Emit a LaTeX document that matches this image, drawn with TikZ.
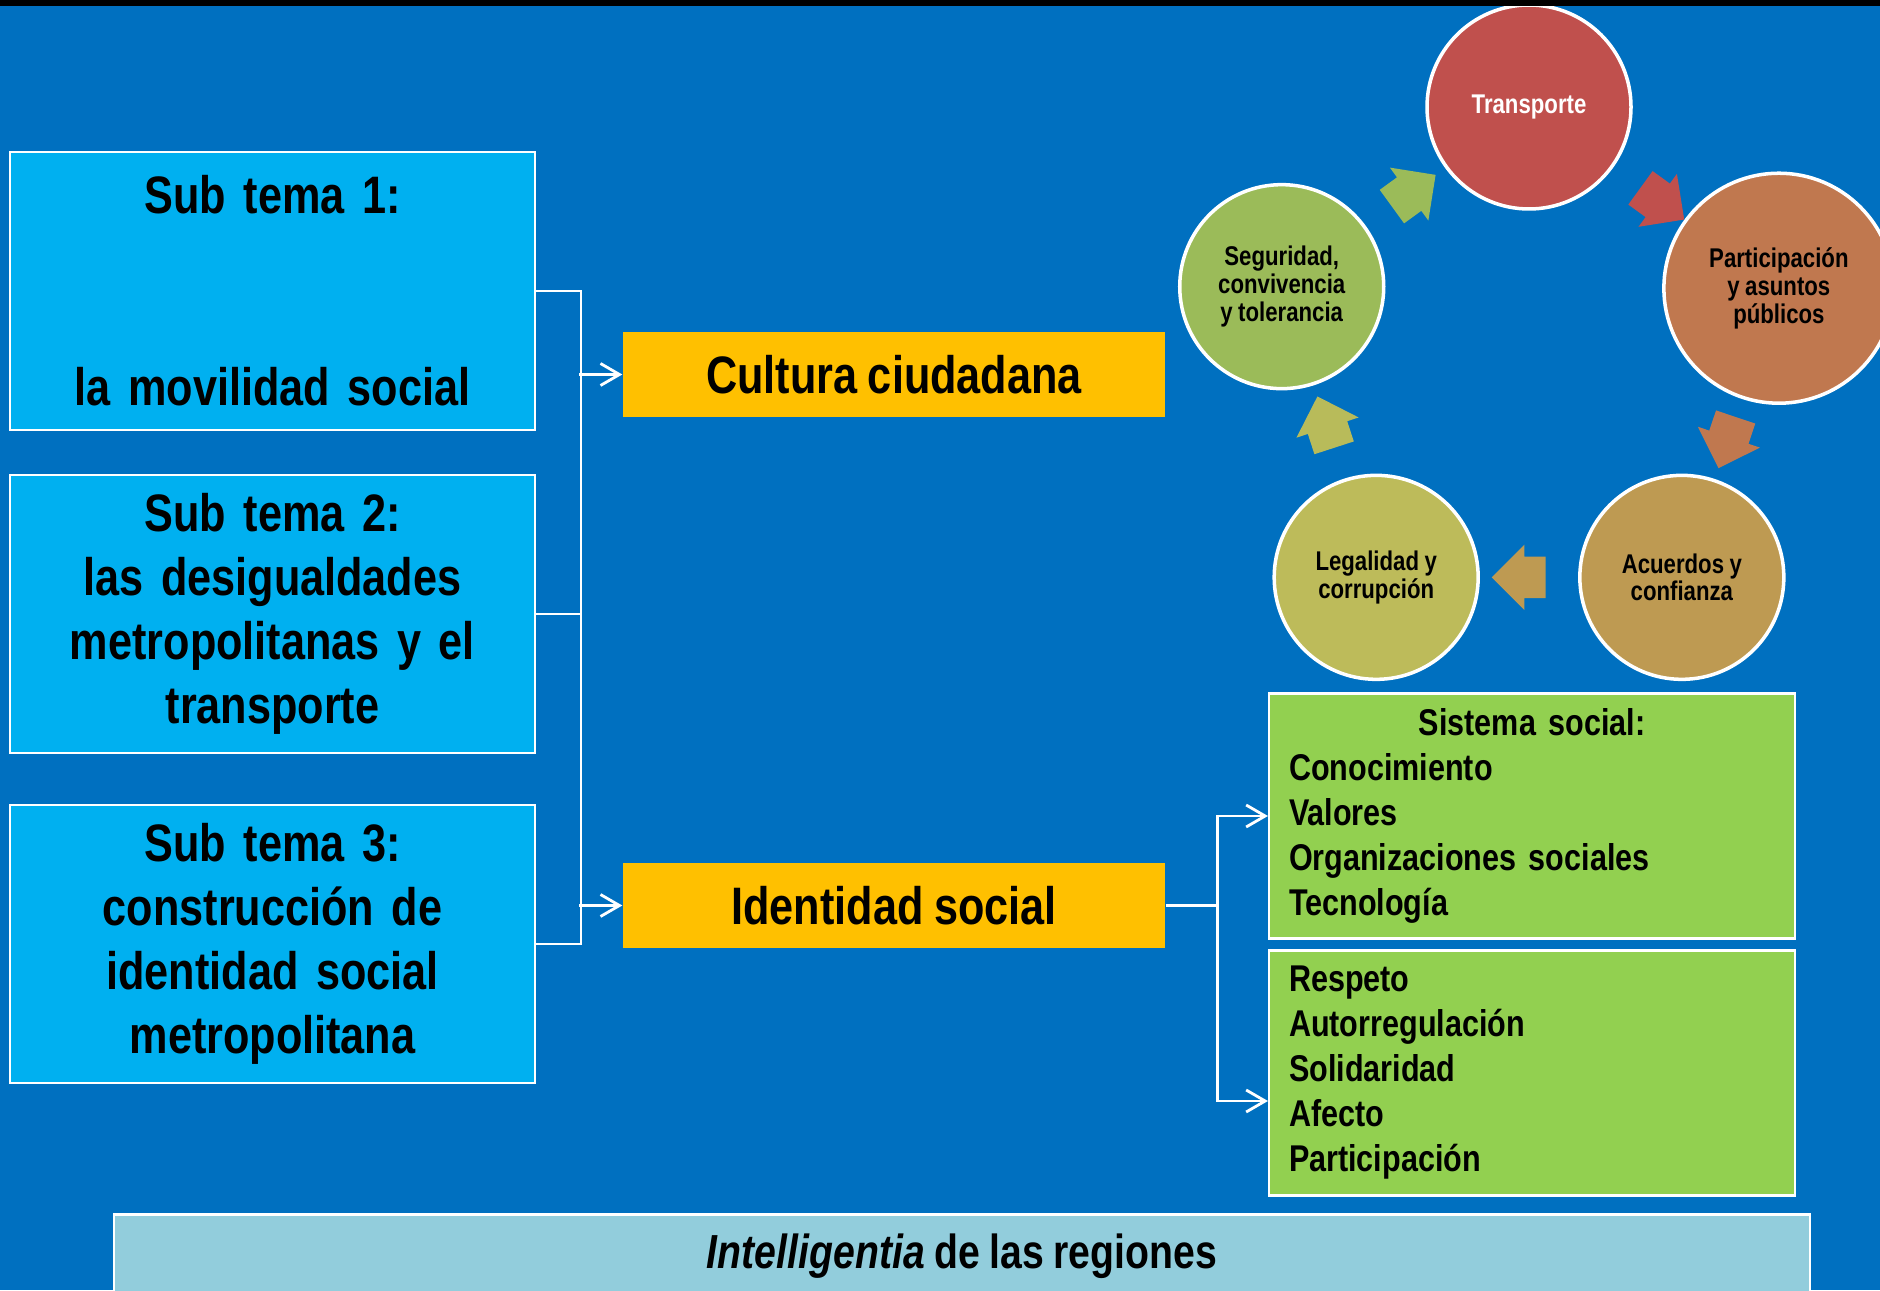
\documentclass[tikz,border=0pt]{standalone}
\usepackage{fontspec}
\setmainfont{Liberation Sans}[FakeStretch=0.82]
\usetikzlibrary{arrows.meta, shapes.arrows}
\definecolor{fondo}{HTML}{0070C0}
\definecolor{celeste}{HTML}{00B0F0}
\definecolor{naranja}{HTML}{FFC000}
\definecolor{verde}{HTML}{92D050}
\definecolor{palido}{HTML}{92CDDC}
\definecolor{rojo}{HTML}{C0504D}
\definecolor{cobre}{HTML}{C0784F}
\definecolor{ocre}{HTML}{BE9A52}
\definecolor{oliva}{HTML}{BDBB5A}
\definecolor{pasto}{HTML}{9BBB59}
\newcommand\apretado{\fontdimen2\font=0.2em\relax}

\begin{document}
\begin{tikzpicture}[>={Straight Barb[length=1.9mm,width=2.2mm]},
    subtema/.style={draw=white, line width=0.6pt, fill=celeste, text width=5cm,
      minimum width=5.25cm, minimum height=2.78cm, inner sep=0pt, align=center,
      font=\bfseries\fontsize{15}{18.2}\selectfont\apretado},
    eje/.style={fill=naranja, minimum width=5.42cm, minimum height=0.85cm,
      inner sep=0pt, font=\bfseries\fontsize{15}{18}\selectfont\apretado},
    lista/.style={draw=white, line width=0.6pt, fill=verde, text width=4.86cm,
      inner xsep=0.2cm, inner ysep=0pt, minimum height=2.45cm, align=left,
      font=\bfseries\fontsize{10.6}{12.8}\selectfont\apretado},
    ciclo/.style={circle, draw=white, line width=1pt, minimum size=2.04cm,
      inner sep=0pt, align=center, font=\bfseries\fontsize{7.7}{7.9}\selectfont\apretado},
    flecha/.style={single arrow, draw=none, minimum height=0.54cm,
      inner xsep=0pt, inner ysep=0.2cm, single arrow head extend=0.12cm,
      sloped, allow upside down},
    enlace/.style={draw=white, line width=0.8pt}]
  \useasboundingbox (0,0) rectangle (18.8,12.9);
  \clip (0,0) rectangle (18.8,12.9);
  \fill[fondo] (0,0) rectangle (18.8,12.9);

  \node[subtema] (s1) at (2.725,9.99) {Sub tema 1:\\~\\~\\la movilidad social};
  \node[subtema] (s2) at (2.725,6.76) {Sub tema 2:\\las desigualdades\\metropolitanas y el\\transporte};
  \node[subtema] (s3) at (2.725,3.46) {Sub tema 3:\\construcción de\\identidad social\\metropolitana};

  \node[eje] (cultura) at (8.94,9.155) {Cultura ciudadana};
  \node[eje] (identidad) at (8.94,3.845) {Identidad social};

  \node[lista] (g1) at (15.32,4.74) {\makebox[\linewidth]{Sistema social:}\\Conocimiento\\Valores\\Organizaciones sociales\\Tecnología};
  \node[lista] (g2) at (15.32,2.17) {Respeto\\Autorregulación\\Solidaridad\\Afecto\\Participación};

  \node[draw=white, line width=0.6pt, fill=palido, minimum width=16.96cm,
    minimum height=0.84cm, font=\bfseries\fontsize{13.6}{16}\selectfont\apretado]
    (pie) at (9.62,0.335) {\textit{Intelligentia} de las regiones};

  \draw[enlace] (s1.east) -- ++(0.45,0) |- (s3.east);
  \draw[enlace] (s2.east) -- ++(0.45,0);
  \draw[enlace, ->] ([xshift=-0.43cm]cultura.west) -- (cultura.west);
  \draw[enlace, ->] ([xshift=-0.43cm]identidad.west) -- (identidad.west);
  \draw[enlace] (identidad.east) -- ++(0.52,0) coordinate (ramal);
  \draw[enlace, <->] (g1.west) -| ([yshift=-0.28cm]ramal |- g2.west) -- ([yshift=-0.28cm]g2.west);

  \begin{scope}[shift={(15.29,9.23)}]
    \node[ciclo, fill=rojo, text=white] (T) at (90:2.6) {Transporte};
    \node[ciclo, fill=cobre, minimum size=2.3cm] (P) at (17.5:2.62) {Participación\\y asuntos\\públicos};
    \node[ciclo, fill=ocre] (A) at (-54:2.6) {Acuerdos y\\confianza};
    \node[ciclo, fill=oliva] (L) at (234:2.6) {Legalidad y\\corrupción};
    \node[ciclo, fill=pasto] (S) at (162:2.6) {Seguridad,\\convivencia\\y tolerancia};
  \end{scope}

  \path (T.center) -- node[flecha, fill=rojo] {} (P.center)
        (P.center) -- node[flecha, fill=cobre] {} (A.center)
        (A.center) -- node[flecha, fill=ocre] {} (L.center)
        (L.center) -- node[flecha, fill=oliva!85!pasto] {} (S.center)
        (S.center) -- node[flecha, fill=pasto] {} (T.center);

  \fill[black] (0,12.84) rectangle (18.8,12.9);
\end{tikzpicture}
\end{document}
